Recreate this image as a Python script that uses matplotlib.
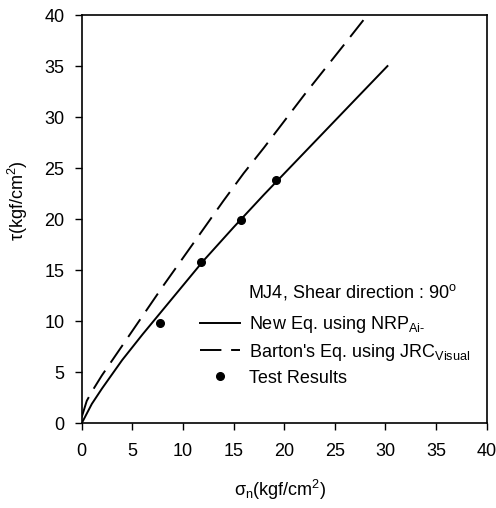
import matplotlib
matplotlib.use("Agg")
import matplotlib.pyplot as plt

plt.rcParams['font.family'] = ['Liberation Sans', 'DejaVu Sans']
plt.rcParams['mathtext.fontset'] = 'custom'
plt.rcParams['mathtext.rm'] = 'Liberation Sans'
plt.rcParams['mathtext.it'] = 'Liberation Sans:italic'

# New Eq. using NRP_Ai (solid)
new_sigma = [0, 1, 2, 4, 6, 8, 10, 12, 15, 18, 21, 24, 27, 30.2]
new_tau = [0, 1.9, 3.4, 6.2, 8.7, 11.1, 13.5, 15.9, 19.2, 22.4, 25.5, 28.6, 31.7, 35.0]

# Barton's Eq. using JRC visual (dashed)
bar_sigma = [0, 0.5, 1, 2, 4, 6, 8, 10, 12, 14, 16, 18, 20, 22, 24, 26, 28.3]
bar_tau = [0.6, 2.2, 3.1, 4.7, 7.6, 10.5, 13.4, 16.2, 19.0, 21.8, 24.5, 27.0,
           29.6, 32.2, 34.7, 37.2, 40.1]

# test results
test_sigma = [7.7, 11.8, 15.7, 19.2]
test_tau = [9.8, 15.8, 19.95, 23.8]

ticks = [0, 5, 10, 15, 20, 25, 30, 35, 40]

fs = 13

fig = plt.figure(figsize=(4.96, 5.08), dpi=100)
ax = fig.add_axes([0.1647, 0.1667, 0.8165, 0.8037])

ax.plot(new_sigma, new_tau, color='black', lw=1.4,
        label='New Eq. using NRP$_{\\mathregular{Ai\\text{-}}}$')
ax.plot(bar_sigma, bar_tau, color='black', lw=1.4, dashes=(11, 5),
        label="Barton's Eq. using JRC$_{\\mathregular{Visual}}$")
ax.plot(test_sigma, test_tau, 'o', color='black', ms=5.5, label='Test Results')

ax.set_xlim(0, 40)
ax.set_ylim(0, 40)
ax.set_xticks(ticks)
ax.set_yticks(ticks)
ax.tick_params(direction='out', length=5, width=1, labelsize=fs)
ax.tick_params(axis='x', pad=9.5)
ax.tick_params(axis='y', pad=7.5)
for s in ax.spines.values():
    s.set_linewidth(1.2)

ax.set_xlabel('$\\mathregular{\\sigma_n(kgf/cm^2)}$', fontsize=fs, va='center', ha='center')
ax.set_ylabel('$\\mathregular{\\tau(kgf/cm^2)}$', fontsize=fs, va='center', ha='center')
ax.xaxis.set_label_coords(0.49, -0.163)
ax.yaxis.set_label_coords(-0.157, 0.545)

ax.text(0.41, 0.3216, 'MJ4, Shear direction : 90$^{\\mathregular{o}}$',
        transform=ax.transAxes, fontsize=fs, va='center')
ax.legend(loc='upper left', bbox_to_anchor=(0.292, 0.268), frameon=False,
          fontsize=fs, handlelength=2.2, handletextpad=0.5, labelspacing=0.38,
          borderpad=0, borderaxespad=0)

fig.savefig('out.png', dpi=100)
